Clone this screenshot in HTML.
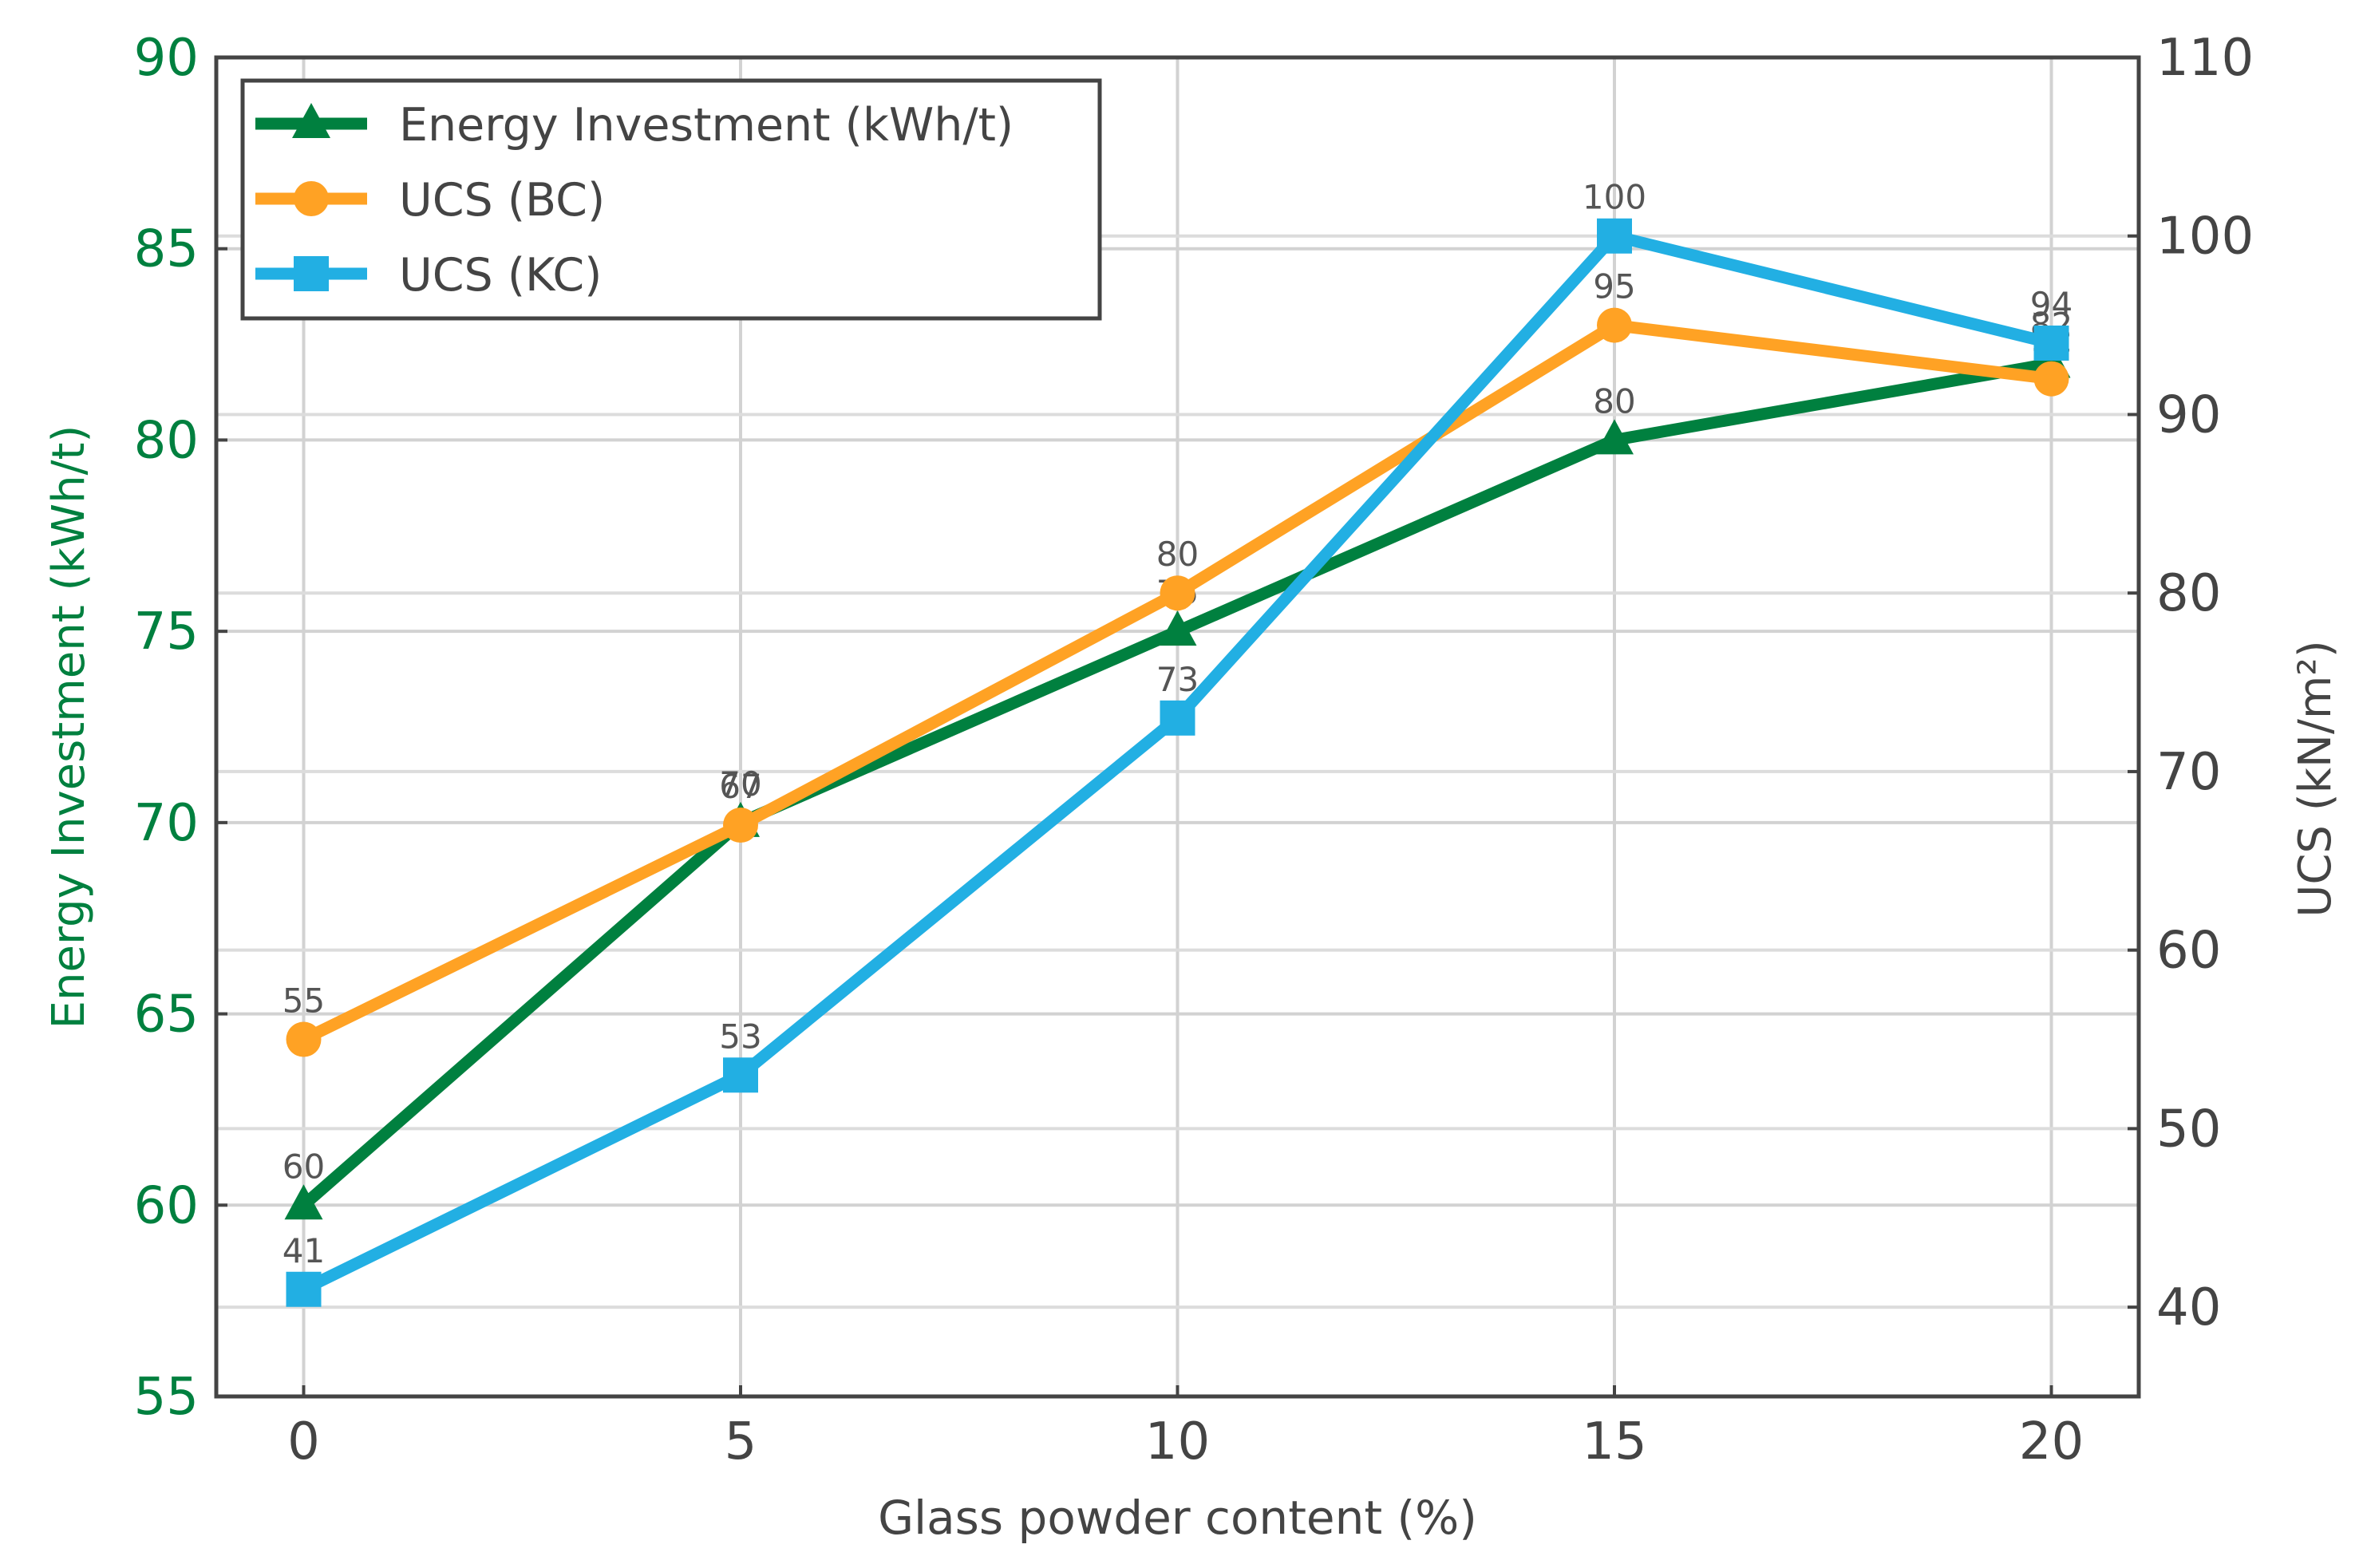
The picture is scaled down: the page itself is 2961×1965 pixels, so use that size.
<!DOCTYPE html>
<html><head><meta charset="utf-8"><style>
html,body{margin:0;padding:0;background:#fff;}
svg{display:block;font-family:"DejaVu Sans","Liberation Sans",sans-serif;}
</style></head><body>
<svg id="chart" width="2961" height="1965" viewBox="0 0 2961 1965" xmlns="http://www.w3.org/2000/svg">
<g id="grid"></g>
<g id="series"></g>
<g id="frame"></g>
<g id="legend"></g>
</svg>
<script>
const categories = [0, 5, 10, 15, 20];
const energy = [60, 70, 75, 80, 82];
const ucsBC = [55, 67, 80, 95, 92];
const ucsKC = [41, 53, 73, 100, 94];
const xTicks = [0, 5, 10, 15, 20];
const leftTicks = [55, 60, 65, 70, 75, 80, 85, 90];
const rightTicks = [40, 50, 60, 70, 80, 90, 100, 110];

const L=271, R=2680, T=72, B=1750;
const X = v => L + (v - (-1)) / 22 * (R - L);
const YL = v => B - (v - 55) / 35 * (B - T);
const YR = v => B - (v - 35) / 75 * (B - T);
const NS="http://www.w3.org/2000/svg";
function mk(tag, attrs, parent, text){
  const e=document.createElementNS(NS,tag);
  for(const k in attrs) e.setAttribute(k,attrs[k]);
  if(text!==undefined) e.textContent=text;
  parent.appendChild(e); return e;
}
const grid=document.getElementById('grid'), series=document.getElementById('series'),
      frame=document.getElementById('frame'), legend=document.getElementById('legend');

xTicks.forEach(t=>{
  const g=mk('line',{x1:X(t),x2:X(t),y1:T,y2:B,stroke:'#d2d2d2','stroke-width':4},grid);
  
  
});
leftTicks.forEach(t=>{
  const g=mk('line',{x1:L,x2:R,y1:YL(t),y2:YL(t),stroke:'#d2d2d2','stroke-width':4},grid);
  
  
});
rightTicks.forEach(t=>{
  const g=mk('line',{x1:L,x2:R,y1:YR(t),y2:YR(t),stroke:'#dcdcdc','stroke-width':4},grid);
  
  
});

function drawSeries(vals, yf, color, marker, name){
  const g=mk('g',{},series);
  
  
  const pts=vals.map((v,i)=>X(categories[i])+','+yf(v)).join(' ');
  const pl=mk('polyline',{points:pts,fill:'none',stroke:color,'stroke-width':15,'stroke-linejoin':'miter'},g);
  
  
  vals.forEach((v,i)=>{
    const cx=X(categories[i]), cy=yf(v);
    let m;
    if(marker==='tri') m=mk('polygon',{points:`${cx},${cy-26} ${cx+24},${cy+18} ${cx-24},${cy+18}`,fill:color},g);
    else if(marker==='circle') m=mk('circle',{cx:cx,cy:cy,r:22,fill:color},g);
    else m=mk('rect',{x:cx-22,y:cy-22,width:44,height:44,fill:color},g);
    
    
    const lb=mk('text',{x:cx,y:cy-34,'text-anchor':'middle','font-size':42,fill:'#555'},g,String(v));
    
    
  });
}
drawSeries(energy, YL, '#00803f', 'tri', 'energy');
drawSeries(ucsBC, YR, '#ffa224', 'circle', 'ucs-bc');
drawSeries(ucsKC, YR, '#22afe3', 'square', 'ucs-kc');

const fr=mk('rect',{x:L,y:T,width:R-L,height:B-T,fill:'none',stroke:'#444','stroke-width':5},frame);


xTicks.forEach(t=>{
  mk('line',{x1:X(t),x2:X(t),y1:B,y2:B-14,stroke:'#444','stroke-width':4},frame);
  const tl=mk('text',{x:X(t),y:B+78,'text-anchor':'middle','font-size':64,fill:'#444'},frame,String(t));
  
  
});
leftTicks.forEach(t=>{
  mk('line',{x1:L,x2:L+14,y1:YL(t),y2:YL(t),stroke:'#444','stroke-width':4},frame);
  const tl=mk('text',{x:L-22,y:YL(t)+22,'text-anchor':'end','font-size':64,fill:'#00803f'},frame,String(t));
  
  
});
rightTicks.forEach(t=>{
  mk('line',{x1:R,x2:R-14,y1:YR(t),y2:YR(t),stroke:'#444','stroke-width':4},frame);
  const tl=mk('text',{x:R+22,y:YR(t)+22,'text-anchor':'start','font-size':64,fill:'#444'},frame,String(t));
  
  
});
const xt=mk('text',{x:(L+R)/2,y:1922,'text-anchor':'middle','font-size':58,fill:'#444'},frame,'Glass powder content (%)');


const yl=mk('text',{x:0,y:0,transform:`translate(105,${(T+B)/2}) rotate(-90)`,'text-anchor':'middle','font-size':56,fill:'#00803f'},frame,'Energy Investment (kWh/t)');


const yr=mk('text',{x:0,y:0,transform:`translate(2920,${(T+B)/2+65}) rotate(-90)`,'text-anchor':'middle','font-size':56,fill:'#444'},frame,'UCS (kN/m²)');



const lb=mk('rect',{x:304,y:101,width:1074,height:298,fill:'#fff',stroke:'#444','stroke-width':5},legend);


const items=[['Energy Investment (kWh/t)','#00803f','tri'],['UCS (BC)','#ffa224','circle'],['UCS (KC)','#22afe3','square']];
items.forEach((it,i)=>{
  const y=155+i*94;
  const g=mk('g',{},legend);
  
  
  mk('line',{x1:320,x2:460,y1:y,y2:y,stroke:it[1],'stroke-width':15},g);
  const cx=390;
  if(it[2]==='tri') mk('polygon',{points:`${cx},${y-26} ${cx+24},${y+18} ${cx-24},${y+18}`,fill:it[1]},g);
  else if(it[2]==='circle') mk('circle',{cx:cx,cy:y,r:22,fill:it[1]},g);
  else mk('rect',{x:cx-22,y:y-22,width:44,height:44,fill:it[1]},g);
  mk('text',{x:500,y:y+21,'font-size':57,fill:'#444'},g,it[0]);
});
</script>
</body></html>
